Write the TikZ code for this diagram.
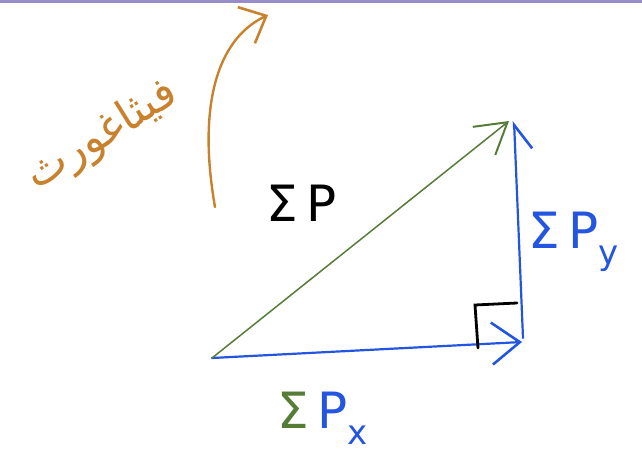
\documentclass[tikz,border=0pt]{standalone}
\usepackage{fontspec}
\newfontfamily\arabicfont[Script=Arabic]{DejaVu Sans}
\newfontfamily\penfont{DejaVu Sans}
\TeXXeTstate=1
\usetikzlibrary{arrows.meta}
\definecolor{penblue}{RGB}{35,85,225}
\definecolor{pengreen}{RGB}{85,125,55}
\definecolor{penbrown}{RGB}{200,130,45}
\definecolor{rulegray}{RGB}{150,140,200}
\newcommand\penidx[1]{{\fontsize{34}{36}\selectfont\raisebox{-16pt}{#1}}}
\begin{document}
\begin{tikzpicture}[x=1pt,y=-1pt,
    vec/.style={line width=2.2pt,penblue,line cap=round,
        -{Straight Barb[length=28pt,width=42pt,line width=2.6pt]}},
    res/.style={line width=1.5pt,pengreen,line cap=round,
        -{Straight Barb[length=30pt,width=36pt,line width=2pt]}},
    lab/.style={inner sep=0pt,anchor=base west,font=\penfont\fontsize{50}{56}\selectfont}
]
    \useasboundingbox (0,0) rectangle (642,457);
    \draw[rulegray,line width=3pt] (0,2)--(642,2);

    \coordinate (o) at (212,358);
    \coordinate (xend) at (522,342);
    \coordinate (ybot) at (523,338);
    \coordinate (ytop) at (514,121);
    \coordinate (tip) at (509,121);

    \draw[vec] (o) -- (xend);
    \draw[vec,-{Straight Barb[right,length=24pt,width=34pt,line width=2.6pt]}] (ybot) -- (ytop);
    \draw[res] (o) -- (tip);

    % right angle mark
    \coordinate (ra1) at (478,348);
    \coordinate (ra2) at (475,305);
    \coordinate (ra3) at (517,303);
    \draw[line width=2.8pt,line cap=round] (ra1) -- (ra2) -- (ra3);

    % pythagoras arrow
    \coordinate (cb) at (215,207);
    \coordinate (ct) at (268,15);
    \draw[penbrown,line width=2.4pt,line cap=round,
        -{Straight Barb[length=22pt,width=40pt,line width=2.6pt]}]
        (cb) .. controls (198,110) and (215,40) .. (ct);

    \node[lab] (sp) at (266,222) {Σ\,P};
    \node[lab,penblue] (spy) at (528,248) {Σ\,P\penidx{y}};
    \node[lab] (spx) at (277,428) {\textcolor{pengreen}{Σ}\,\textcolor{penblue}{P\penidx{x}}};
    \node[penbrown,rotate=32,font=\arabicfont\fontsize{44}{50}\selectfont]
        (pyth) at (102,136) {\beginR فيثاغورث\endR};
\end{tikzpicture}
\end{document}
